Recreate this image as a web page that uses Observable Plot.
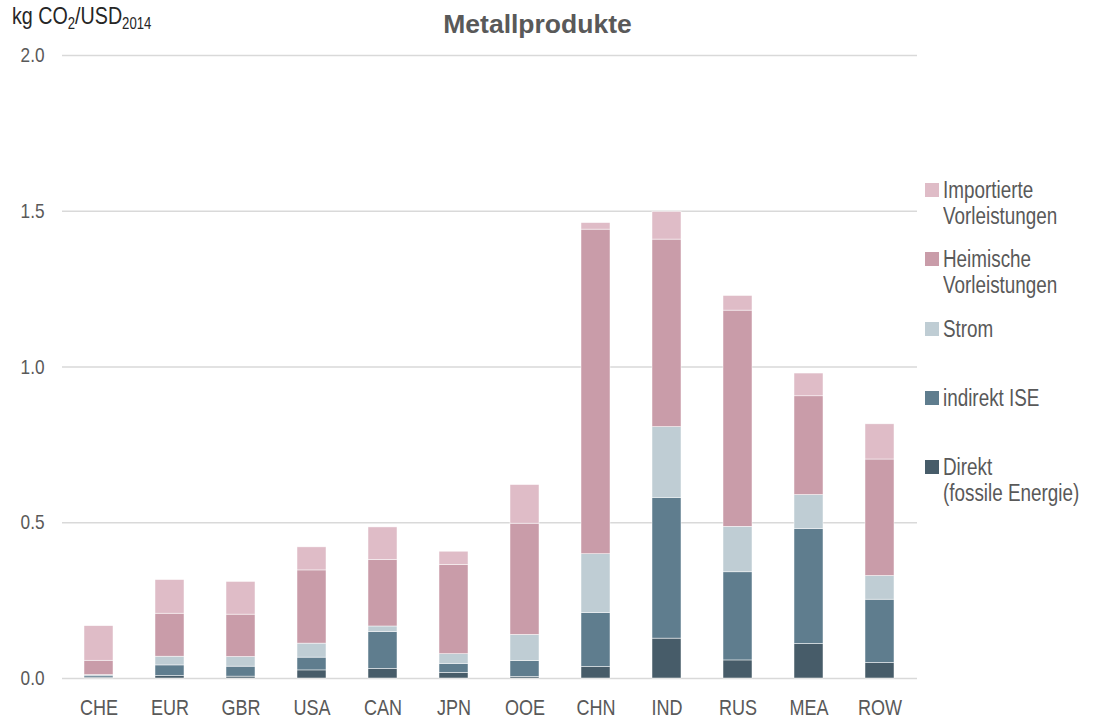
<!DOCTYPE html>
<html>
<head>
<meta charset="utf-8">
<script src="https://cdn.jsdelivr.net/npm/d3@7"></script>
<script src="https://cdn.jsdelivr.net/npm/@observablehq/plot@0.6"></script>
<style>
  html, body { margin: 0; padding: 0; background: #fff; }
  #wrap { position: relative; width: 1093px; height: 720px; font-family: "Liberation Sans", Arial, sans-serif; color: #595959; overflow: hidden; }
  #title { position: absolute; left: 0; width: 1075px; top: 9px; text-align: center; font-family: "Liberation Sans", Arial, sans-serif; font-weight: bold; font-size: 26.5px; color: #595959; }
  #unit { position: absolute; left: 12px; top: 2px; font-size: 24px; color: #262626; white-space: nowrap; transform: scaleX(0.82); transform-origin: left top; }
  #unit sub { font-size: 16px; vertical-align: -5px; line-height: 0; }
  #legend { position: absolute; left: 925px; top: 0; }
  .item { position: absolute; left: 0; display: flex; align-items: flex-start; white-space: nowrap; }
  .sw { width: 14px; height: 14px; margin-top: 6px; margin-right: 4px; flex: none; }
  .lt { font-size: 23px; line-height: 26px; color: #595959; transform: scaleX(0.82); transform-origin: left top; }
  svg { position: absolute; left: 0; top: 0; }
</style>
</head>
<body>
<div id="wrap">
  <div id="chart"></div>
  <div id="title">Metallprodukte</div>
  <div id="unit">kg CO<sub>2</sub>/USD<sub>2014</sub></div>
  <div id="legend"></div>
</div>
<script>
const regions = ["CHE", "EUR", "GBR", "USA", "CAN", "JPN", "OOE", "CHN", "IND", "RUS", "MEA", "ROW"];
const seriesNames = ["Direkt (fossile Energie)", "indirekt ISE", "Strom", "Heimische Vorleistungen", "Importierte Vorleistungen"];
const legendLabels = [["Importierte", "Vorleistungen"], ["Heimische", "Vorleistungen"], ["Strom"], ["indirekt ISE"], ["Direkt", "(fossile Energie)"]];
const colors = ["#475c69", "#5f7d8e", "#bfcdd4", "#c99ca9", "#dfbcc7"];

const direkt     = [0.003, 0.008, 0.006, 0.026, 0.031, 0.018, 0.005, 0.037, 0.128, 0.058, 0.111, 0.050];
const indirekt   = [0.006, 0.034, 0.032, 0.041, 0.118, 0.029, 0.051, 0.173, 0.452, 0.283, 0.369, 0.203];
const strom      = [0.002, 0.028, 0.031, 0.045, 0.018, 0.031, 0.084, 0.189, 0.227, 0.146, 0.109, 0.076];
const heimische  = [0.046, 0.138, 0.136, 0.235, 0.214, 0.287, 0.357, 1.042, 0.602, 0.694, 0.317, 0.374];
const importiert = [0.111, 0.108, 0.105, 0.074, 0.104, 0.042, 0.124, 0.021, 0.089, 0.047, 0.073, 0.113];

const yTicks = [0, 0.5, 1.0, 1.5, 2.0];

const seriesValues = [direkt, indirekt, strom, heimische, importiert];
const data = [];
regions.forEach((r, i) => {
  seriesNames.forEach((s, j) => {
    data.push({region: r, series: s, value: seriesValues[j][i]});
  });
});

const fmt = d3.format(".1f");
const chart = Plot.plot({
  width: 1093,
  height: 720,
  marginLeft: 62,
  marginRight: 176,
  marginTop: 55,
  marginBottom: 42,
  style: {fontFamily: '"Liberation Sans", Arial, sans-serif', fontSize: "22px", color: "#595959", background: "transparent"},
  x: {domain: regions, paddingInner: 0.59, paddingOuter: 0.295, label: null},
  y: {domain: [0, 2], label: null},
  color: {domain: seriesNames, range: colors},
  marks: [
    Plot.gridY(yTicks, {stroke: "#d9d9d9", strokeOpacity: 1, strokeWidth: 1.5}),
    Plot.barY(data, {x: "region", y: "value", fill: "series", order: seriesNames, stroke: "#ffffff", strokeWidth: 0.6, strokeOpacity: 0.8}),
    Plot.axisX({tickSize: 0, tickPadding: 21, fontSize: 22, label: null}),
    Plot.axisY(yTicks, {tickSize: 0, tickPadding: 18, tickFormat: fmt, fontSize: 21, label: null})
  ]
});
document.getElementById("chart").appendChild(chart);

// narrow the axis labels (emulating a condensed face)
d3.select(chart).selectAll("g[aria-label='x-axis tick label'] text, g[aria-label='y-axis tick label'] text")
  .each(function() {
    const t = this.getAttribute("transform");
    if (t) this.setAttribute("transform", t + " scale(0.82,1)");
  });

const legend = document.getElementById("legend");
const legendColors = colors.slice().reverse();
legendLabels.forEach((lines, i) => {
  const item = document.createElement("div");
  item.className = "item";
  item.style.top = (177 + i * 69.3) + "px";
  const sw = document.createElement("div");
  sw.className = "sw";
  sw.style.background = legendColors[i];
  const t = document.createElement("div");
  t.className = "lt";
  t.innerHTML = lines.join("<br>");
  item.appendChild(sw);
  item.appendChild(t);
  legend.appendChild(item);
});
</script>
</body>
</html>
